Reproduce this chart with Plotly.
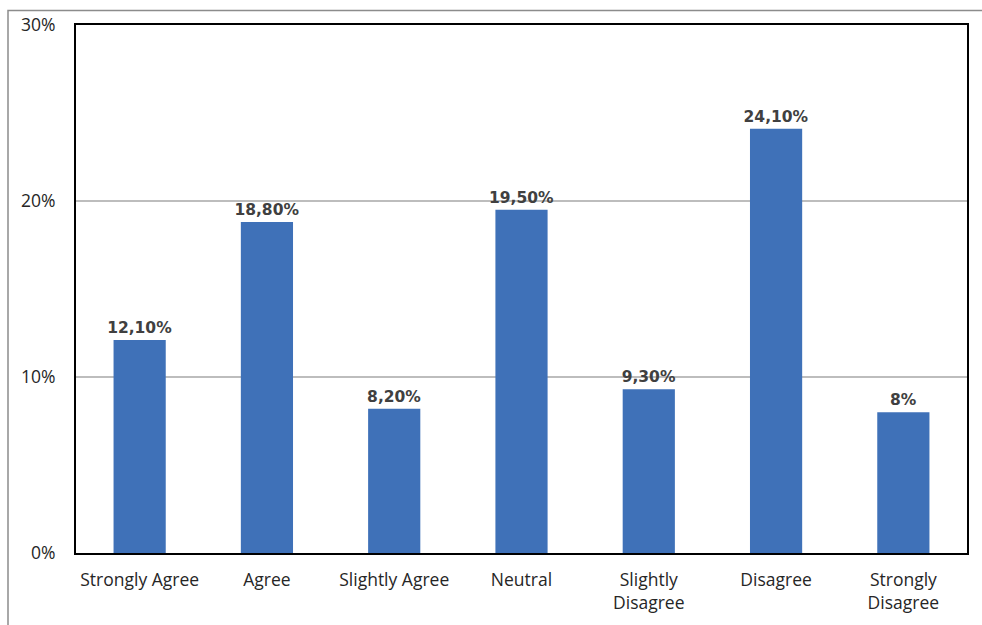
import plotly.graph_objects as go

# Survey response distribution
categories = ["Strongly Agree", "Agree", "Slightly Agree", "Neutral",
              "Slightly<br>Disagree", "Disagree", "Strongly<br>Disagree"]
shares = [12.1, 18.8, 8.2, 19.5, 9.3, 24.1, 8.0]
y_ticks = [0, 10, 20, 30]
y_tick_text = ["0%", "10%", "20%", "30%"]


def fmt(v):
    if float(v).is_integer():
        return f"{int(v)}%"
    return f"{v:.2f}".replace(".", ",") + "%"


labels = [fmt(v) for v in shares]

W, H = 982, 625
ml, mr, mt, mb = 76, 15, 25, 72
pw, ph = W - ml - mr, H - mt - mb

FONT = "Open Sans, Liberation Sans, Arial, sans-serif"
LABEL_FONT = "DejaVu Sans, Open Sans, sans-serif"

fig = go.Figure(go.Bar(
    x=categories,
    y=shares,
    text=labels,
    textposition="outside",
    constraintext="none",
    textfont=dict(family=LABEL_FONT, size=15.5, color="#404040", weight="bold"),
    marker=dict(color="#3F71B8", line=dict(width=0)),
    cliponaxis=False,
))

fig.update_layout(
    width=W, height=H,
    margin=dict(l=ml, r=mr, t=mt, b=mb),
    paper_bgcolor="white", plot_bgcolor="white",
    bargap=0.59,
    showlegend=False,
    font=dict(family=FONT, size=17.5, color="#262626"),
)

fig.update_xaxes(
    showline=True, linecolor="black", linewidth=2, mirror=True,
    showgrid=False, ticks="", ticklabelstandoff=10,
    tickfont=dict(family=FONT, size=17.5, color="#262626"),
)
fig.update_yaxes(
    range=[0, 30], tickvals=y_ticks, ticktext=y_tick_text,
    showline=True, linecolor="black", linewidth=2, mirror=True,
    showgrid=True, gridcolor="#BDBDBD", gridwidth=1.5,
    zeroline=False, ticks="", ticklabelstandoff=15,
    tickfont=dict(family=FONT, size=17.5, color="#262626"),
)

# Outer frame around the chart area (top and left edges visible)
fig.add_shape(
    type="rect", xref="paper", yref="paper",
    x0=(8 - ml) / pw, x1=(W + 20 - ml) / pw,
    y0=-(mb + 20) / ph, y1=(H - 10.5 - mb) / ph,
    line=dict(color="#8C8C8C", width=1.5),
    layer="below",
)

fig.write_html("out.html")
